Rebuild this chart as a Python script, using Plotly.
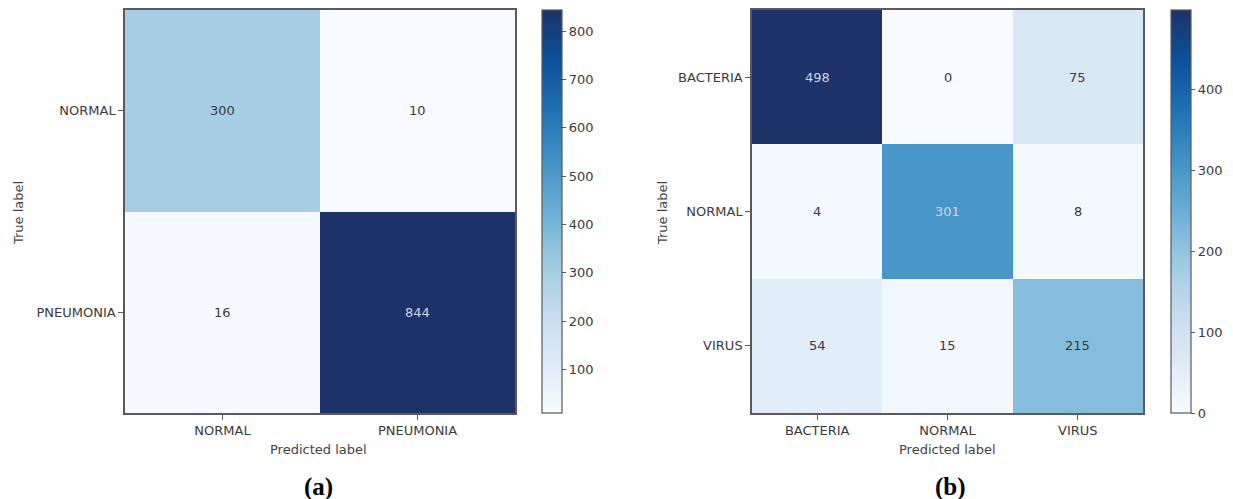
import plotly.graph_objects as go

# ---------------- data ----------------
labels_a = ["NORMAL", "PNEUMONIA"]
cm_a = [[300, 10],
        [16, 844]]

labels_b = ["BACTERIA", "NORMAL", "VIRUS"]
cm_b = [[498, 0, 75],
        [4, 301, 8],
        [54, 15, 215]]

cbar_ticks_a = [100, 200, 300, 400, 500, 600, 700, 800]
cbar_ticks_b = [0, 100, 200, 300, 400]

panel_tags = ["(a)", "(b)"]
x_title = "Predicted label"
y_title = "True label"

# ---------------- styling ----------------
W, H = 1233, 499
FONT = "DejaVu Sans"
TXT = "#3a3a3a"
FRAME = "#5a5a5a"
LIGHT_TXT = "#cdd5e6"

blues = [
    [0.0, "#f7fbff"], [0.125, "#deebf7"], [0.25, "#c6dbef"],
    [0.375, "#9ecae1"], [0.5, "#6baed6"], [0.625, "#4292c6"],
    [0.75, "#2171b5"], [0.875, "#0b519c"], [1.0, "#1c3268"],
]


def px_x(p):
    return p / W


def px_y(p):
    return 1 - p / H


panels = [
    dict(labels=labels_a, cm=cm_a, ticks=cbar_ticks_a,
         x0=125, x1=515, cbx=542, ylab_x=18, tag_x=318, title_x=318),
    dict(labels=labels_b, cm=cm_b, ticks=cbar_ticks_b,
         x0=752, x1=1143, cbx=1171, ylab_x=662, tag_x=950, title_x=948),
]
top_px, bot_px = 10, 413

fig = go.Figure()
annotations = []

for i, p in enumerate(panels):
    n = len(p["labels"])
    idx = list(range(n))
    flat = [v for row in p["cm"] for v in row]
    zmin, zmax = min(flat), max(flat)
    xa = "x" if i == 0 else "x2"
    ya = "y" if i == 0 else "y2"
    fig.add_trace(go.Heatmap(
        z=p["cm"], x=idx, y=idx, xaxis=xa, yaxis=ya,
        zmin=zmin, zmax=zmax, colorscale=blues,
        hoverinfo="skip",
        colorbar=dict(
            x=px_x(p["cbx"]), xanchor="left", xref="paper",
            y=px_y(top_px), yanchor="top", yref="paper",
            len=(bot_px - top_px) / H, lenmode="fraction",
            thickness=20, thicknessmode="pixels",
            xpad=0, ypad=0,
            outlinewidth=1.2, outlinecolor=FRAME,
            tickmode="array", tickvals=p["ticks"],
            ticks="outside", ticklen=4, tickwidth=1, tickcolor=FRAME,
            tickfont=dict(family=FONT, size=13, color=TXT),
        ),
    ))
    thresh = (zmax + zmin) / 2
    for r in range(n):
        for c in range(n):
            v = p["cm"][r][c]
            annotations.append(dict(
                x=c, y=r, xref=xa, yref=ya, text=str(v), showarrow=False,
                font=dict(family=FONT, size=13,
                          color=LIGHT_TXT if v > thresh else TXT),
            ))
    ax_common = dict(
        tickmode="array", tickvals=idx, ticktext=p["labels"],
        showline=True, mirror=True, linecolor=FRAME, linewidth=1.5,
        ticks="outside", ticklen=5, tickwidth=1, tickcolor=FRAME,
        tickfont=dict(family=FONT, size=13, color=TXT),
        showgrid=False, zeroline=False, fixedrange=True,
    )
    fig.update_layout(**{
        ("xaxis" if i == 0 else "xaxis2"): dict(
            ax_common, domain=[px_x(p["x0"]), px_x(p["x1"])],
            range=[-0.5, n - 0.5], anchor=ya),
        ("yaxis" if i == 0 else "yaxis2"): dict(
            ax_common, domain=[px_y(bot_px), px_y(top_px)],
            range=[n - 0.5, -0.5], anchor=xa),
    })
    annotations.append(dict(
        x=px_x(p["title_x"]), y=px_y(449), xref="paper", yref="paper",
        text=x_title, showarrow=False, xanchor="center", yanchor="middle",
        font=dict(family=FONT, size=13, color="#444444")))
    annotations.append(dict(
        x=px_x(p["ylab_x"]), y=px_y(213), xref="paper", yref="paper",
        text=y_title, showarrow=False, textangle=-90,
        xanchor="center", yanchor="middle",
        font=dict(family=FONT, size=13, color="#444444")))
    annotations.append(dict(
        x=px_x(p["tag_x"]), y=px_y(487), xref="paper", yref="paper",
        text="<b>%s</b>" % panel_tags[i], showarrow=False,
        xanchor="center", yanchor="middle",
        font=dict(family="Liberation Serif", size=25, color="#000000")))

fig.update_layout(
    width=W, height=H,
    margin=dict(l=0, r=0, t=0, b=0, pad=0),
    paper_bgcolor="white", plot_bgcolor="white",
    annotations=annotations,
    showlegend=False,
)

fig.write_html("out.html",
               post_script="document.body.style.margin='0';",
               config={"displayModeBar": False})
